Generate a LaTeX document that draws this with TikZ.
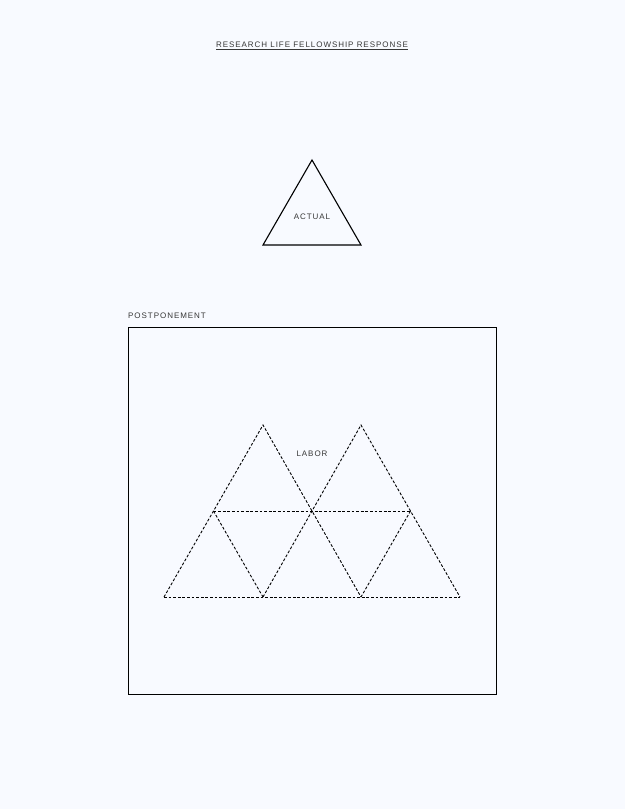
\documentclass[tikz,border=0pt]{standalone}
\usepackage{fontspec}
\setmainfont{Liberation Sans}[LetterSpace=12]
\definecolor{bg}{RGB}{248,250,255}
\definecolor{txt}{RGB}{55,55,55}
\begin{document}
\begin{tikzpicture}[x=1pt,y=-1pt,
  lbl/.style={font=\fontsize{8}{9.5}\selectfont, text=txt, inner sep=0pt},
  solidline/.style={draw=black, line width=1.1pt, line join=miter},
  dashline/.style={draw=black, line width=0.9pt, dash pattern=on 2.8pt off 1.8pt}]
\fill[bg] (0,0) rectangle (625,809);
\useasboundingbox (0,0) rectangle (625,809);
% title
\node[lbl] (title) at (312,46) {\underline{RESEARCH LIFE FELLOWSHIP RESPONSE}};
% actual triangle
\coordinate (aT) at (312,160);
\coordinate (aL) at (263,245);
\coordinate (aR) at (361,245);
\draw[solidline] (aT) -- (aL) -- (aR) -- cycle;
\node[lbl] (actual) at (312,217) {ACTUAL};
% postponement box
\node[lbl, anchor=west] (post) at (128,315.5) {POSTPONEMENT};
\node[draw=black, line width=0.8pt, minimum width=368pt, minimum height=367pt, inner sep=0pt, anchor=north west] (box) at (128,327) {};
% labor triangles
\coordinate (t1) at (263,425);
\coordinate (t2) at (361,425);
\coordinate (b1) at (164,597);
\coordinate (b2) at (263,597);
\coordinate (b3) at (361,597);
\coordinate (b4) at (460,597);
\coordinate (m1) at (213.5,511);
\coordinate (m2) at (312,511);
\coordinate (m3) at (410.5,511);
\draw[dashline] (b1) -- (t1) -- (b3);
\draw[dashline] (b2) -- (t2) -- (b4);
\draw[dashline] (b1) -- (b4);
\draw[dashline] (m1) -- (m3);
\draw[dashline] (m1) -- (b2);
\draw[dashline] (m3) -- (b3);
\node[lbl] (labor) at (312,454) {LABOR};
\end{tikzpicture}
\end{document}
